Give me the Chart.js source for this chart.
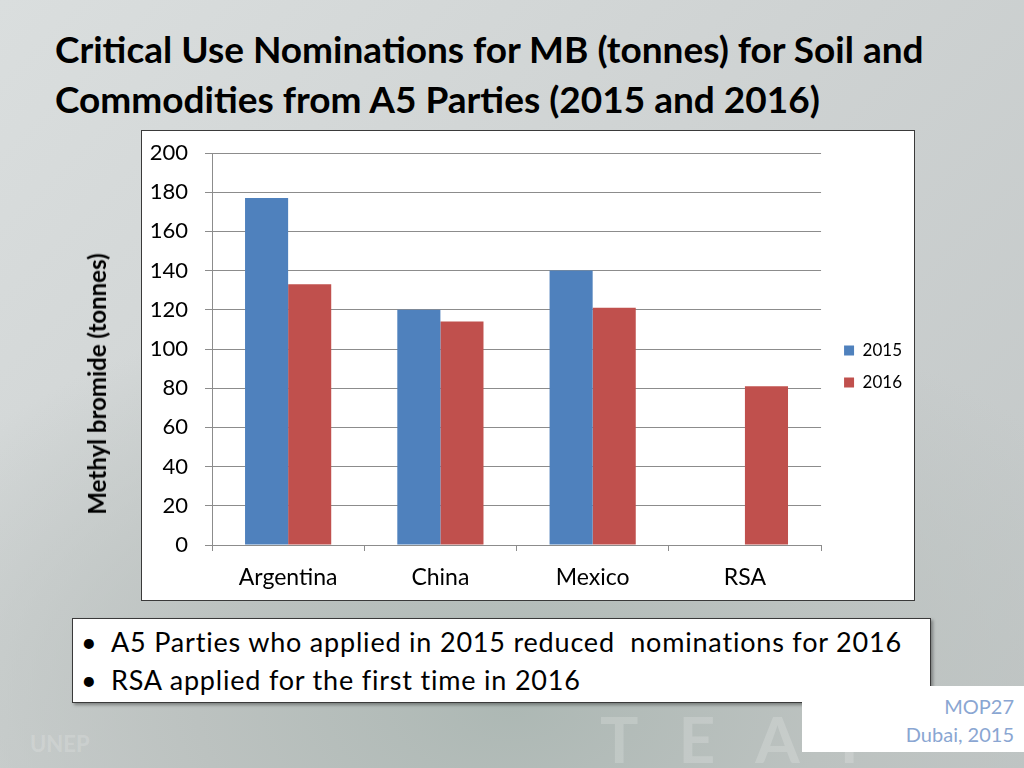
<!DOCTYPE html>
<html>
<head>
<meta charset="utf-8">
<script src="https://cdn.jsdelivr.net/npm/chart.js@4.4.1/dist/chart.umd.min.js"></script>
<style>
  html, body { margin: 0; padding: 0; }
  body {
    width: 1024px; height: 768px; position: relative; overflow: hidden;
    font-family: Lato, "Open Sans", sans-serif;
    background: radial-gradient(ellipse 700px 420px at 50% 92%, #adb8b4 0%, #bcc2c0 45%, rgba(200,205,205,0) 100%),
                linear-gradient(135deg, #dadede 0%, #cfd3d3 45%, #c1c6c6 100%);
  }
  #title {
    position: absolute; left: 55px; top: 24px; margin: 0;
    font-weight: bold; font-size: 37px; line-height: 50px; color: #000;
    white-space: nowrap;
  }
  #chartBox {
    position: absolute; left: 141px; top: 130px; width: 772px; height: 469px;
    background: #fff; border: 1px solid #3a3a3a;
  }
  #chartCanvas { position: absolute; left: 80px; top: 131px; }
  #yTitle {
    position: absolute; left: 97px; top: 384px; white-space: nowrap;
    transform: translate(-50%, -50%) rotate(-90deg);
    font-weight: bold; font-size: 24px; line-height: 28px; color: #000;
  }
  #notes {
    position: absolute; left: 72px; top: 618px; width: 857px; height: 83px;
    background: #fff; border: 1px solid #3a3a3a; box-shadow: 2px 2px 3px rgba(0,0,0,0.35);
    font-size: 27px; letter-spacing: 0.8px; color: #000;
  }
  #notes ul { margin: 0; padding: 4px 0 0 38px; list-style: none; }
  #notes li { position: relative; line-height: 38px; white-space: nowrap; }
  #notes li::before { content: "\2022"; position: absolute; left: -30px; }
  #meeting {
    position: absolute; left: 802px; top: 686px; width: 212px; height: 66px; padding-right: 10px;
    background: #fff; text-align: right; color: #8aa6d2; font-size: 20px; line-height: 28px;
  }
  #meeting div:first-child { margin-top: 6px; }
  .wm { position: absolute; color: rgba(255,255,255,0.18); font-weight: bold; }
</style>
</head>
<body>
<div class="wm" style="left:600px; top:700px; font-size:64px; letter-spacing:40px;">TEAP</div>
<div class="wm" style="left:30px; top:730px; font-size:22px;">UNEP</div>

<h1 id="title">Critical Use Nominations for MB (tonnes) for Soil and<br>Commodities from A5 Parties (2015 and 2016)</h1>

<div id="chartBox"></div>
<canvas id="chartCanvas" width="835" height="469" style="width:835px;height:469px;"></canvas>
<div id="yTitle">Methyl bromide (tonnes)</div>

<div id="notes">
  <ul>
    <li>A5 Parties who applied in 2015 reduced&nbsp; nominations for 2016</li>
    <li>RSA applied for the first time in 2016</li>
  </ul>
</div>

<div id="meeting"><div>MOP27</div><div>Dubai, 2015</div></div>

<script>
const countries = ["Argentina", "China", "Mexico", "RSA"];
const values2015 = [177, 120, 140, null];
const values2016 = [133, 114, 121, 81];
const yTicks = [0, 20, 40, 60, 80, 100, 120, 140, 160, 180, 200];

const FONT = "Lato, 'Open Sans', sans-serif";
const gridGrey = "#8c8c8c";

// nudge the legend into the spot it has on the slide
const legendNudge = {
    id: "legendNudge",
    afterLayout(chart) {
        const lg = chart.legend;
        lg.left += 8; lg.right += 8;
        lg.top -= 10; lg.bottom -= 10;
    }
};

new Chart(document.getElementById("chartCanvas"), {
    type: "bar",
    data: {
        labels: countries,
        datasets: [
            {
                label: "2015",
                data: values2015,
                backgroundColor: "#4f81bd",
                barPercentage: 1,
                categoryPercentage: 0.566
            },
            {
                label: "2016",
                data: values2016,
                backgroundColor: "#c0504d",
                barPercentage: 1,
                categoryPercentage: 0.566
            }
        ]
    },
    options: {
        responsive: false,
        animation: false,
        layout: { padding: { top: 22, right: 11, bottom: 0, left: 0 } },
        plugins: {
            legend: {
                position: "right",
                labels: {
                    boxWidth: 10, boxHeight: 10, padding: 15,
                    color: "#000", font: { family: FONT, size: 17 }
                }
            },
            tooltip: { enabled: false }
        },
        scales: {
            x: {
                grid: { offset: true, drawOnChartArea: false, drawTicks: true, tickLength: 6, color: gridGrey },
                border: { display: true, color: gridGrey },
                ticks: { color: "#000", padding: 13, font: { family: FONT, size: 23 } },
                afterFit: axis => { axis.height = 55; }
            },
            y: {
                min: 0,
                max: 200,
                afterBuildTicks: axis => { axis.ticks = yTicks.map(v => ({ value: v })); },
                grid: { color: gridGrey, tickLength: 7 },
                border: { display: true, color: gridGrey },
                ticks: { color: "#000", padding: 17, font: { family: FONT, size: 22 } },
                afterFit: axis => {
                    axis.width = 132;
                    axis.paddingTop = 0;
                    axis.paddingBottom = 0;
                }
            }
        }
    },
    plugins: [legendNudge]
});
</script>
</body>
</html>
